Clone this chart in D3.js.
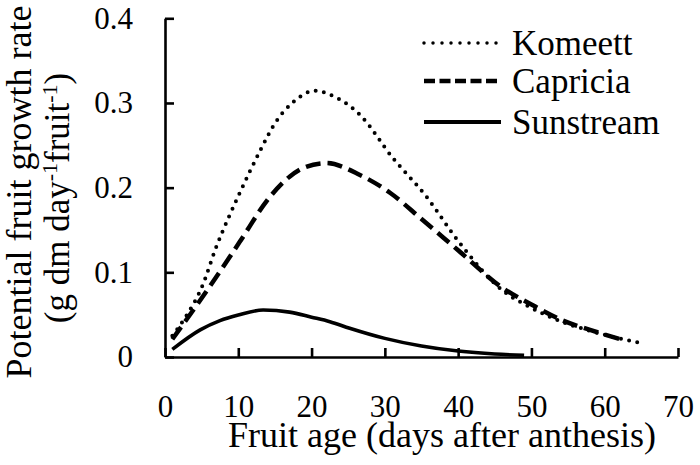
<!DOCTYPE html>
<html><head><meta charset="utf-8">
<script src="https://cdn.jsdelivr.net/npm/d3@7/dist/d3.min.js"></script>
</head><body style="margin:0;background:#fff">
<script>
const xTicks = [0,10,20,30,40,50,60,70];
const yTicks = [0,0.1,0.2,0.3,0.4];
const yTickLabels = ["0","0.1","0.2","0.3","0.4"];
const seriesNames = ["Komeett","Capricia","Sunstream"];
const komeettDays = [1,3,5,7,10,13,15,17.5,20.5,23,26.6,31,35.7,40,46,50,54.3,58,61,65];
const komeettVals = [0.025,0.050,0.082,0.130,0.190,0.244,0.276,0.301,0.3145,0.308,0.286,0.236,0.189,0.137,0.079,0.058,0.041,0.031,0.024,0.0165];
const capriciaDays = [1,4.8,7.5,10.2,14.3,17,18.8,22,26.6,30.7,35,40,46,50,54.3,58,62.5];
const capriciaVals = [0.021,0.067,0.101,0.136,0.189,0.213,0.223,0.229,0.215,0.194,0.163,0.126,0.082,0.062,0.043,0.032,0.020];
const sunstreamDays = [1,4.8,7.5,10,13.4,17,20,22.5,25.2,30,35,40,45,49];
const sunstreamVals = [0.009,0.032,0.043,0.0496,0.0555,0.053,0.047,0.0417,0.034,0.022,0.013,0.007,0.0035,0.002];

const FONT='Liberation Serif';
const W=700,H=465;
const svg=d3.select("body").append("svg").attr("width",W).attr("height",H).style("display","block");
const x=d3.scaleLinear().domain([0,70]).range([165,678]);
const y=d3.scaleLinear().domain([0,0.4]).range([357,18.3]);

// axes
const xAxis=d3.axisBottom(x).tickValues(xTicks).tickSizeInner(-9).tickSizeOuter(0).tickPadding(38).tickFormat(d3.format("d"));
const gx=svg.append("g").attr("transform","translate(0,357)").call(xAxis);
const yAxis=d3.axisLeft(y).tickValues(yTicks).tickSizeInner(-9).tickSizeOuter(0).tickPadding(32).tickFormat((d,i)=>yTickLabels[i]);
const gy=svg.append("g").attr("transform","translate(165,0)").call(yAxis);
[gx,gy].forEach(g=>{
  g.attr("font-family",null).attr("font-size",null);
  g.select(".domain").attr("stroke","#000").attr("stroke-width",2.6);
  g.selectAll(".tick line").attr("stroke","#000").attr("stroke-width",2.6);
  g.selectAll(".tick text").style("font-size","31px").style("font-family",FONT).attr("fill","#000");
});

const line=d3.line().x(d=>x(d[0])).y(d=>y(d[1])).curve(d3.curveMonotoneX);
const mk=(days,vals)=>days.map((d,i)=>[d,vals[i]]);
const styles=[
  {dash:"0 8.3",w:4,cap:"round"},
  {dash:"15 7",w:4.5,cap:"butt"},
  {dash:null,w:3.6,cap:"butt"}
];
const data=[mk(komeettDays,komeettVals),mk(capriciaDays,capriciaVals),mk(sunstreamDays,sunstreamVals)];
data.forEach((d,i)=>{
  const p=svg.append("path").datum(d).attr("d",line).attr("fill","none").attr("stroke","#000")
    .attr("stroke-width",styles[i].w).attr("stroke-linecap",styles[i].cap);
  if(styles[i].dash)p.attr("stroke-dasharray",styles[i].dash);
});

// legend
const legStyles=[
  {dash:"0 9",w:3.5,cap:"round"},
  {dash:"11 4.5",w:4.5,cap:"butt"},
  {dash:null,w:4,cap:"butt"}
];
const legY=[43,81,122];
seriesNames.forEach((n,i)=>{
  const l=svg.append("line").attr("x1",424).attr("x2",501).attr("y1",legY[i]).attr("y2",legY[i])
    .attr("stroke","#000").attr("stroke-width",legStyles[i].w).attr("stroke-linecap",legStyles[i].cap);
  if(legStyles[i].dash)l.attr("stroke-dasharray",legStyles[i].dash);
  svg.append("text").attr("x",512).attr("y",legY[i]+12).style("font-size","35px").style("font-family",FONT).text(n);
});

// axis titles
svg.append("text").attr("x",442).attr("y",447).attr("text-anchor","middle").style("font-size","36px").style("font-family",FONT)
  .text("Fruit age (days after anthesis)");
const yt=svg.append("g").attr("transform","translate(0,192) rotate(-90)");
yt.append("text").attr("x",0).attr("y",31).attr("text-anchor","middle").style("font-size","36px").style("font-family",FONT)
  .text("Potential fruit growth rate");
const t2=yt.append("text").attr("x",-6).attr("y",69).attr("text-anchor","middle").style("font-size","35px").style("font-family",FONT);
t2.append("tspan").text("(g dm day");
t2.append("tspan").style("font-size","22px").attr("dy",-12).text("-1");
t2.append("tspan").attr("dy",12).text("fruit");
t2.append("tspan").style("font-size","22px").attr("dy",-12).text("-1");
t2.append("tspan").attr("dy",12).text(")");
</script>
</body></html>
